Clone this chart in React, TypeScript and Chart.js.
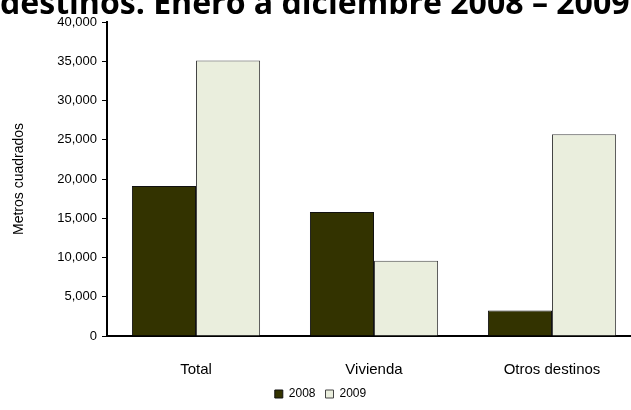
import React, { useEffect, useRef } from "react";
import { Chart, registerables } from "chart.js";

Chart.register(...registerables);

const titleText = "destinos. Enero a diciembre 2008 – 2009";
const categories = ["Total", "Vivienda", "Otros destinos"];
const seriesLabels = ["2008", "2009"];
const values2008 = [19100, 15800, 3250];
const values2009 = [35100, 9600, 25700];
const yTickMin = 0;
const yTickMax = 40000;
const yTickStep = 5000;
const yAxisTitle = "Metros cuadrados";

const titlePlugin = {
  id: "clippedTitle",
  afterDraw(chart: any) {
    const ctx = chart.ctx;
    ctx.save();
    const base = 24;
    const fam = `"Open Sans", "Liberation Sans", sans-serif`;
    ctx.font = `bold ${base}px ${fam}`;
    const w = ctx.measureText(titleText).width;
    const size = (base * 630) / w;
    ctx.font = `bold ${size}px ${fam}`;
    ctx.fillStyle = "#000";
    ctx.textBaseline = "alphabetic";
    ctx.textAlign = "left";
    ctx.fillText(titleText, 0, 14);
    ctx.restore();
  },
};

export default function App() {
  const ref = useRef<HTMLCanvasElement>(null);
  useEffect(() => {
    if (!ref.current) return;
    const font = "'Liberation Sans', Arial, sans-serif";
    const chart = new Chart(ref.current, {
      type: "bar",
      data: {
        labels: categories,
        datasets: [
          {
            label: seriesLabels[0],
            data: values2008,
            backgroundColor: "#333300",
            borderColor: "#111111",
            borderWidth: 1,
            categoryPercentage: 0.72,
            barPercentage: 1.0,
          },
          {
            label: seriesLabels[1],
            data: values2009,
            backgroundColor: "#EAEEDD",
            borderColor: "#444444",
            borderWidth: 1,
            categoryPercentage: 0.72,
            barPercentage: 1.0,
          },
        ],
      },
      options: {
        responsive: false,
        animation: false,
        layout: { padding: { top: 22, right: 19, left: 0, bottom: 0 } },
        plugins: {
          title: { display: false },
          tooltip: { enabled: false },
          legend: {
            position: "bottom",
            labels: {
              boxWidth: 8,
              boxHeight: 8,
              padding: 10,
              color: "#000",
              font: { family: font, size: 12 },
            },
          },
        },
        scales: {
          x: {
            grid: { display: false },
            border: { display: true, color: "#000", width: 2 },
            ticks: {
              color: "#000",
              padding: 17,
              font: { family: font, size: 15 },
              maxRotation: 0,
            },
            afterFit(scale: any) {
              scale.height = 42;
            },
          },
          y: {
            min: yTickMin,
            max: yTickMax,
            grid: {
              drawOnChartArea: false,
              drawTicks: true,
              tickLength: 5,
              color: "#000",
            },
            border: { display: true, color: "#000", width: 2 },
            ticks: {
              stepSize: yTickStep,
              color: "#000",
              padding: 5,
              font: { family: font, size: 13 },
              callback: (v: any) => Number(v).toLocaleString("en-US"),
            },
            title: {
              display: true,
              text: yAxisTitle,
              color: "#000",
              padding: { top: 11, bottom: 0 },
              font: { family: font, size: 14 },
            },
            afterFit(scale: any) {
              scale.width = 107;
            },
          },
        },
      },
      plugins: [titlePlugin],
    });
    return () => chart.destroy();
  }, []);
  return (
    <div
      style={{
        position: "fixed",
        left: 0,
        top: 0,
        width: 631,
        height: 410,
        overflow: "hidden",
        background: "#fff",
      }}
    >
      <canvas ref={ref} width={660} height={410} style={{ display: "block" }} />
    </div>
  );
}
